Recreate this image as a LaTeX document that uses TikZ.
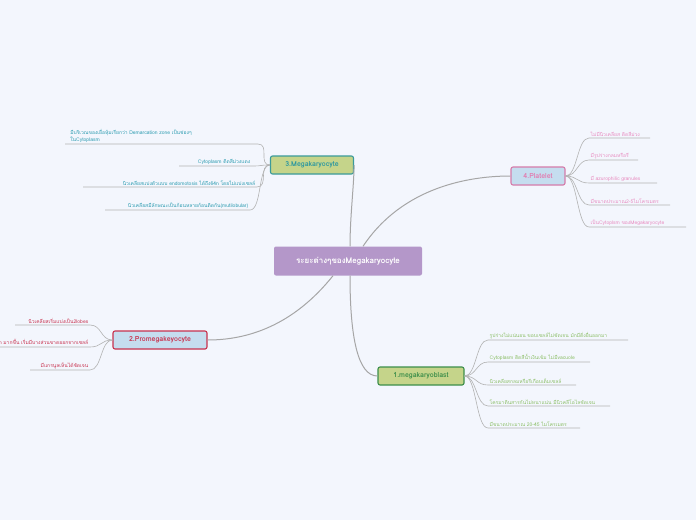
\documentclass[tikz,border=0pt]{standalone}
\usepackage{fontspec}
\setmainfont{Loma}[Script=Thai]
\begin{document}
\begin{tikzpicture}[x=1pt,y=-1pt,
  conn/.style={draw=black!30,line width=0.6pt},
  br/.style={draw=black!35,line width=1pt},
  leafL/.style={font=\fontsize{5}{6.5}\selectfont,inner sep=1.5pt,anchor=south east,align=left},
  leafR/.style={font=\fontsize{5}{6.5}\selectfont,inner sep=1.5pt,anchor=south west,align=left},
  topic/.style={rounded corners=2pt,line width=1.1pt,font=\fontsize{7}{8}\selectfont\bfseries,minimum height=18pt,inner xsep=6pt}]
\definecolor{bg}{HTML}{F3F6FD}
\definecolor{teal}{HTML}{2B9BB0}
\definecolor{pnk}{HTML}{E88CC0}
\definecolor{lgr}{HTML}{8BBE66}
\definecolor{dred}{HTML}{C8324E}
\definecolor{olive}{HTML}{C5D48A}
\definecolor{lblue}{HTML}{C5DDEF}
\fill[bg] (0,0) rectangle (696,520);
\clip (0,0) rectangle (696,520);
\node[fill={rgb,255:red,180;green,151;blue,201},text=white,rounded corners=2pt,minimum width=148pt,minimum height=29pt,font=\fontsize{8}{9}\selectfont\bfseries] (c) at (348,261) {ระยะต่างๆของMegakaryocyte};
\node[topic,fill=olive,draw={rgb,255:red,58;green,154;blue,154},text={rgb,255:red,42;green,150;blue,160},minimum width=83pt] (m3) at (312,165) {3.Megakaryocyte};
\node[topic,fill=lblue,draw={rgb,255:red,213;green,123;blue,170},text={rgb,255:red,226;green,123;blue,176},minimum width=54pt] (m4) at (538,176) {4.Platelet};
\node[topic,fill=lblue,draw=dred,text=dred,minimum width=94pt] (m2) at (160,340) {2.Promegakeyocyte};
\node[topic,fill=olive,draw={rgb,255:red,60;green,142;blue,74},text={rgb,255:red,60;green,142;blue,74},minimum width=86pt] (m1) at (421,376) {1.megakaryoblast};
\draw[br] (c.north) ++(2,0) coordinate (c1) (c1) .. controls +(0,-30) and +(0,20) .. (m3.east);
\draw[br] ([xshift=15pt]c.north) .. controls +(40,-60) and +(-40,0) .. (m4.west);
\draw[br] ([xshift=-15pt]c.south) .. controls +(-40,50) and +(40,0) .. (m2.east);
\draw[br] ([xshift=2pt]c.south) .. controls +(0,60) and +(-20,0) .. (m1.west);
% Megakaryocyte leaves
\begin{scope}[text=teal]
\node[leafL,text width=186pt] (a1) at (258,144) {มีบริเวณของเยื่อหุ้มเรียกว่า Demarcation zone เป็นช่องๆ\\ในCytoplasm};
\node[leafL] (a2) at (252,166) {Cytoplasm ติดสีม่วงแดง};
\node[leafL] (a3) at (257,187) {นิวเคลียสแบ่งตัวแบบ endomotosis ได้ถึง64n โดยไม่แบ่งเซลล์};
\node[leafL] (a4) at (250,210) {นิวเคลียสมีลักษณะเป็นก้อนหลายก้อนติดกัน(mutilobular)};
\end{scope}
\foreach \n/\l in {a1/65,a2/179,a3/83,a4/105}{
  \draw[conn] (m3.west) .. controls +(-12,0) and +(12,0) .. (\n.south east) -- (\l,0 |- \n.south east);}
% Platelet leaves
\begin{scope}[text=pnk]
\node[leafR] (p1) at (589,138) {ไม่มีนิวเคลียส ติดสีม่วง};
\node[leafR] (p2) at (589,160) {มีรูปร่างกลมหรือรี};
\node[leafR] (p3) at (589,183) {มี azurophilic granules};
\node[leafR] (p4) at (589,205) {มีขนาดประมาณ2-5ไมโครเมตร};
\node[leafR] (p5) at (589,227) {เป็นCytoplsm ของMegakaryocyte};
\end{scope}
\foreach \n/\r in {p1/650,p2/638,p3/657,p4/670,p5/686}{
  \draw[conn] (m4.east) .. controls +(12,0) and +(-12,0) .. (\n.south west) -- (\r,0 |- \n.south west);}
% Megakaryoblast leaves
\begin{scope}[text=lgr]
\node[leafR] (b1) at (488,340) {รูปร่างไม่แน่นอน ขอบเซลล์ไม่ชัดเจน มักมีติ่งยื่นออกมา};
\node[leafR] (b2) at (488,362) {Cytoplasm ติดสีน้ำเงินเข้ม ไม่มีvacuole};
\node[leafR] (b3) at (488,385) {นิวเคลียสกลมหรือรีเกือบเต็มเซลล์};
\node[leafR] (b4) at (488,406) {โครมาตินสารกันไม่หนาแน่น มีนิวคลีโอไลชัดเจน};
\node[leafR] (b5) at (488,428) {มีขนาดประมาณ 20-45 ไมโครเมตร};
\end{scope}
\foreach \n/\r in {b1/628,b2/590,b3/576,b4/610,b5/580}{
  \draw[conn] (m1.east) .. controls +(12,0) and +(-12,0) .. (\n.south west) -- (\r,0 |- \n.south west);}
% Promegakaryocyte leaves
\begin{scope}[text=dred]
\node[leafL] (q1) at (90,325) {นิวเคลียสเริ่มแบ่งเป็น2lobes};
\node[leafL] (q2) at (90,347) {Cytoplasm มากขึ้น เริ่มมีบางส่วนขาดออกจากเซลล์};
\node[leafL] (q3) at (90,370) {มีแกรนูลเห็นได้ชัดเจน};
\end{scope}
\foreach \n/\l in {q1/15,q2/0,q3/30}{
  \draw[conn] (m2.west) .. controls +(-12,0) and +(12,0) .. (\n.south east) -- (\l,0 |- \n.south east);}
\end{tikzpicture}
\end{document}
